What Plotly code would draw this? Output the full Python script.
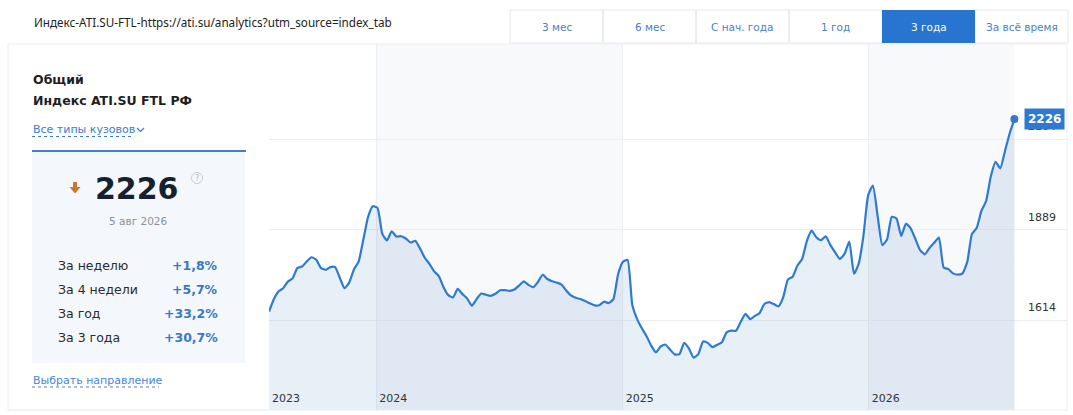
import pandas as pd
import plotly.graph_objects as go

# weekly index values (3-year view)
dates = pd.date_range("2023-07-26", "2026-08-05", freq="7D")
values = [
    1641, 1678, 1702, 1712, 1732, 1742, 1773, 1778, 1793, 1806,
    1799, 1774, 1768, 1776, 1776, 1744, 1712, 1729, 1769, 1793,
    1860, 1929, 1961, 1956, 1878, 1857, 1885, 1869, 1870, 1863,
    1851, 1856, 1833, 1805, 1786, 1763, 1749, 1715, 1691, 1684,
    1710, 1694, 1681, 1659, 1679, 1696, 1692, 1689, 1695, 1706,
    1706, 1704, 1708, 1720, 1733, 1722, 1715, 1731, 1753, 1740,
    1733, 1729, 1723, 1705, 1690, 1683, 1679, 1673, 1666, 1660,
    1660, 1671, 1667, 1679, 1755, 1792, 1798, 1661, 1619, 1591,
    1567, 1538, 1517, 1535, 1541, 1526, 1511, 1512, 1546, 1529,
    1501, 1512, 1550, 1546, 1533, 1540, 1548, 1578, 1583, 1583,
    1610, 1634, 1618, 1628, 1637, 1664, 1670, 1664, 1657, 1685,
    1739, 1747, 1781, 1801, 1855, 1887, 1867, 1858, 1870, 1843,
    1821, 1801, 1817, 1854, 1756, 1787, 1872, 1995, 2024, 1932,
    1843, 1860, 1929, 1924, 1871, 1908, 1894, 1862, 1828, 1815,
    1834, 1850, 1866, 1775, 1770, 1757, 1753, 1757, 1792, 1877,
    1895, 1947, 1977, 2052, 2096, 2076, 2129, 2183, 2226,
]

y_ticks = [1614, 1889, 2164]
year_starts = ["2024-01-01", "2025-01-01", "2026-01-01"]
year_labels = ["2023", "2024", "2025", "2026"]

tabs = ["3 мес", "6 мес", "С нач. года", "1 год", "3 года", "За всё время"]
active_tab = "3 года"

stat_labels = ["За неделю", "За 4 недели", "За год", "За 3 года"]
stat_values = ["+1,8%", "+5,7%", "+33,2%", "+30,7%"]

title_text = "Индекс-ATI.SU-FTL-https://ati.su/analytics?utm_source=index_tab"
current_date = "5 авг 2026"

W, H = 1073, 415
FONT = "DejaVu Sans"
BLUE = "#2f7ad1"
LINK = "#3a7bd5"


def px(x):
    return x / W


def py(y):
    return 1 - y / H


shapes = []
annotations = []


def text(x, y, s, size, color, anchor="left", family=FONT):
    annotations.append(dict(
        x=px(x), y=py(y), xref="paper", yref="paper", text=s,
        showarrow=False, xanchor=anchor, yanchor="middle",
        font=dict(size=size, color=color, family=family)))


def rect(x0, y0, x1, y1, fill=None, line=None, width=1, layer="below"):
    shapes.append(dict(
        type="rect", xref="paper", yref="paper", layer=layer,
        x0=px(x0), x1=px(x1), y0=py(y0), y1=py(y1),
        fillcolor=fill or "rgba(0,0,0,0)",
        line=dict(color=line or "rgba(0,0,0,0)", width=width if line else 0)))


def hline(x0, x1, y, color, width=1, dash="solid", layer="above"):
    shapes.append(dict(
        type="line", xref="paper", yref="paper", layer=layer,
        x0=px(x0), x1=px(x1), y0=py(y), y1=py(y),
        line=dict(color=color, width=width, dash=dash)))


# header line and period tabs
text(32, 22, title_text, 11.7, "#222222", family="Noto Sans")
tab_w = 93
for i, t in enumerate(tabs):
    x0 = 510 + i * tab_w
    if t == active_tab:
        rect(x0, 10, x0 + tab_w, 43, fill="#2775d0", layer="above")
        text(x0 + tab_w / 2, 27, t, 10.5, "white", anchor="center")
    else:
        rect(x0, 10, x0 + tab_w, 43, line="#e4e7eb")
        text(x0 + tab_w / 2, 27, t, 10.5, "#4a80c8", anchor="center")

# left info card
text(31, 79, "<b>Общий</b>", 12.5, "#1e1e1e")
text(31, 101, "<b>Индекс ATI.SU FTL РФ</b>", 12.5, "#1e1e1e")
text(31, 129, "Все типы кузовов", 11, LINK)
hline(32, 134, 136.5, LINK, dash="dot")
shapes.append(dict(type="path", xref="paper", yref="paper", layer="above",
                   path="M {} {} L {} {} L {} {}".format(px(137), py(128), px(140.5), py(131.5), px(144), py(128)),
                   line=dict(color=LINK, width=1.2)))

rect(32, 151, 245, 363, fill="#f4f8fc")
hline(32, 246, 151, "#3f80cf", width=2)
# down arrow
shapes.append(dict(type="path", xref="paper", yref="paper", layer="above",
                   path="M {a} {t} L {b} {t} L {b} {m} L {c} {m} L {x} {bot} L {d} {m} L {a} {m} Z".format(
                       a=px(73.0), b=px(77.0), t=py(182), m=py(187), c=px(80.5), d=px(69.5),
                       x=px(75), bot=py(193.5)),
                   fillcolor="#c8782a", line=dict(width=0)))
text(93, 188, "<b>2226</b>", 30, "#17202e")
shapes.append(dict(type="circle", xref="paper", yref="paper", layer="above",
                   x0=px(191.5), x1=px(202.5), y0=py(172.5), y1=py(183.5),
                   line=dict(color="#c9cdd2", width=1)))
text(197, 178, "?", 8, "#b5bac0", anchor="center")
text(138, 221, current_date, 10.5, "#8b9097", anchor="center")

for i, (lab, val) in enumerate(zip(stat_labels, stat_values)):
    yy = 265 + i * 24
    text(56, yy, lab, 12.5, "#2b2b2b")
    text(220, yy, "<b>" + val + "</b>", 12.5, "#3a78c4", anchor="right")

text(31, 380, "Выбрать направление", 11, "#4a86d4")
hline(32, 159, 387, "#4a86d4", dash="dot")

# widget frame
rect(8, 44, 1067, 410, line="#eceef1", layer="above")
hline(8, 269, 410, "#eceef1")

# alternating year bands
shapes.append(dict(type="rect", xref="x", yref="y domain", layer="below",
                   x0=year_starts[0], x1=year_starts[1], y0=0, y1=1,
                   fillcolor="#f8f9fb", line=dict(width=0)))
shapes.append(dict(type="rect", xref="x", yref="y domain", layer="below",
                   x0=year_starts[2], x1=dates[-1], y0=0, y1=1,
                   fillcolor="#f8f9fb", line=dict(width=0)))

fig = go.Figure()
fig.add_trace(go.Scatter(
    x=dates, y=values, mode="lines",
    line=dict(color=BLUE, width=2.2, shape="spline", smoothing=0.5),
    fill="tozeroy", fillcolor="rgba(40,105,180,0.11)",
    hoverinfo="skip"))
fig.add_trace(go.Scatter(
    x=[dates[-1]], y=[values[-1]], mode="markers",
    marker=dict(color=BLUE, size=8), hoverinfo="skip"))

annotations.append(dict(
    x=dates[-1], y=values[-1], xref="x", yref="y",
    text="<b>%d</b>" % values[-1], showarrow=False, xshift=30,
    bgcolor=BLUE, borderpad=3,
    font=dict(size=12, color="white", family=FONT)))

fig.update_layout(
    width=W, height=H,
    margin=dict(l=0, r=0, t=0, b=0),
    paper_bgcolor="white", plot_bgcolor="white",
    showlegend=False,
    shapes=shapes, annotations=annotations,
    xaxis=dict(
        domain=[px(269), px(1067)],
        range=[dates[0], "2026-10-22"],
        tickvals=[dates[0]] + year_starts, ticktext=year_labels,
        ticklabelposition="inside right", ticks="",
        ticklabelshift=3,
        showgrid=True, gridcolor="#eceef1", gridwidth=1,
        zeroline=False, showline=False, fixedrange=True,
        tickfont=dict(size=11, color="#333333", family=FONT),
    ),
    yaxis=dict(
        domain=[py(410), py(44)],
        range=[1342, 2454],
        tickvals=y_ticks, side="right",
        ticklabelposition="inside", ticks="",
        ticklabelshift=-13, ticklabelstandoff=8,
        showgrid=True, gridcolor="#eceef1", gridwidth=1,
        zeroline=False, showline=False, fixedrange=True,
        tickfont=dict(size=11, color="#333333", family=FONT),
    ),
)

fig.write_html("out.html", config={"displayModeBar": False},
               post_script="document.body.style.margin='0';")
